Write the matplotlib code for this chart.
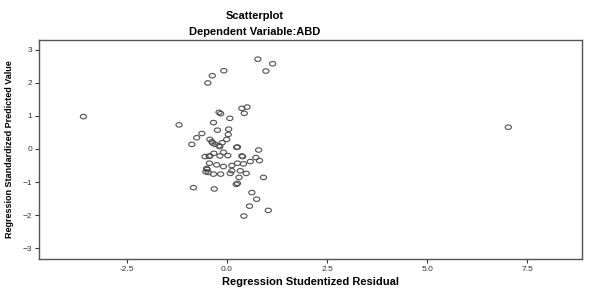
import numpy as np
import matplotlib
matplotlib.use("Agg")
import matplotlib.pyplot as plt
from matplotlib.path import Path

plt.rcParams['font.family'] = ['Liberation Sans', 'DejaVu Sans']

# studentized residual (x) vs standardized predicted value (y)
resid = [-3.59, 7.03, 0.77, 1.14, 0.97, -0.08, -0.37, -0.48, -0.20, -0.16,
         0.37, 0.50, 0.43, -1.20, 0.07, -0.34, 0.04, 0.03, -0.24, -0.63,
         -0.76, -0.88, -0.43, -0.38, -0.30, -0.12, -0.01, -0.18, 0.26, 0.79,
         -0.55, -0.43, -0.33, -0.18, 0.02, -0.09, 0.37, 0.72, 0.81, 0.58,
         0.41, 0.26, 0.12, -0.09, -0.26, -0.44, -0.51, -0.47, -0.53, -0.34,
         -0.16, 0.08, 0.12, 0.33, 0.48, 0.30, 0.91, 0.26, 0.23, -0.84,
         -0.32, 0.62, 0.74, 0.56, 1.03, 0.42, 0.39, 0.24, -0.45, -0.36,
         -0.50, -0.20]
pred = [0.98, 0.66, 2.72, 2.58, 2.36, 2.37, 2.22, 2.00, 1.11, 1.07,
        1.23, 1.27, 1.08, 0.73, 0.93, 0.80, 0.60, 0.44, 0.57, 0.47,
        0.34, 0.14, 0.29, 0.22, 0.14, 0.19, 0.29, 0.07, 0.06, -0.03,
        -0.23, -0.21, -0.13, -0.21, -0.20, -0.10, -0.21, -0.26, -0.35, -0.38,
        -0.45, -0.43, -0.50, -0.53, -0.48, -0.43, -0.59, -0.71, -0.69, -0.76,
        -0.76, -0.74, -0.66, -0.66, -0.74, -0.86, -0.86, -1.04, -1.07, -1.17,
        -1.21, -1.32, -1.52, -1.73, -1.86, -2.03, -0.23, 0.05, -0.22, 0.18,
        -0.62, 0.10]

xticks = [-2.5, 0.0, 2.5, 5.0, 7.5]
yticks = [-3, -2, -1, 0, 1, 2, 3]

# slightly flattened circle like the SPSS export
circ = Path.unit_circle()
ell = Path(circ.vertices * [1.0, 0.72], circ.codes)

fig = plt.figure(figsize=(5.91, 2.90), dpi=100)
ax = fig.add_axes([0.066, 0.107, 0.919, 0.755])

ax.scatter(resid, pred, marker=ell, s=20, facecolors='none',
           edgecolors='#505050', linewidths=0.8)

ax.set_xlim(-4.7, 8.875)
ax.set_ylim(-3.33, 3.30)
ax.set_xticks(xticks)
ax.set_xticklabels(['%.1f' % t for t in xticks])
ax.set_yticks(yticks)
ax.tick_params(labelsize=6, colors='#333333', length=3, width=0.8, pad=2)
for s in ax.spines.values():
    s.set_color('#555555')
    s.set_linewidth(1.0)

ax.set_xlabel('Regression Studentized Residual', fontsize=8, fontweight='bold', labelpad=3)
ax.set_ylabel('Regression Standardized Predicted Value', fontsize=6.5,
              fontweight='bold', labelpad=6,
              family=['Liberation Sans Narrow', 'Liberation Sans', 'DejaVu Sans'])

fig.text(0.431, 1 - 16 / 290, 'Scatterplot', ha='center', va='center',
         fontsize=8, fontweight='bold')
fig.text(0.431, 1 - 32 / 290, 'Dependent Variable:ABD', ha='center', va='center',
         fontsize=8, fontweight='bold')

fig.savefig('out.png', dpi=100)
